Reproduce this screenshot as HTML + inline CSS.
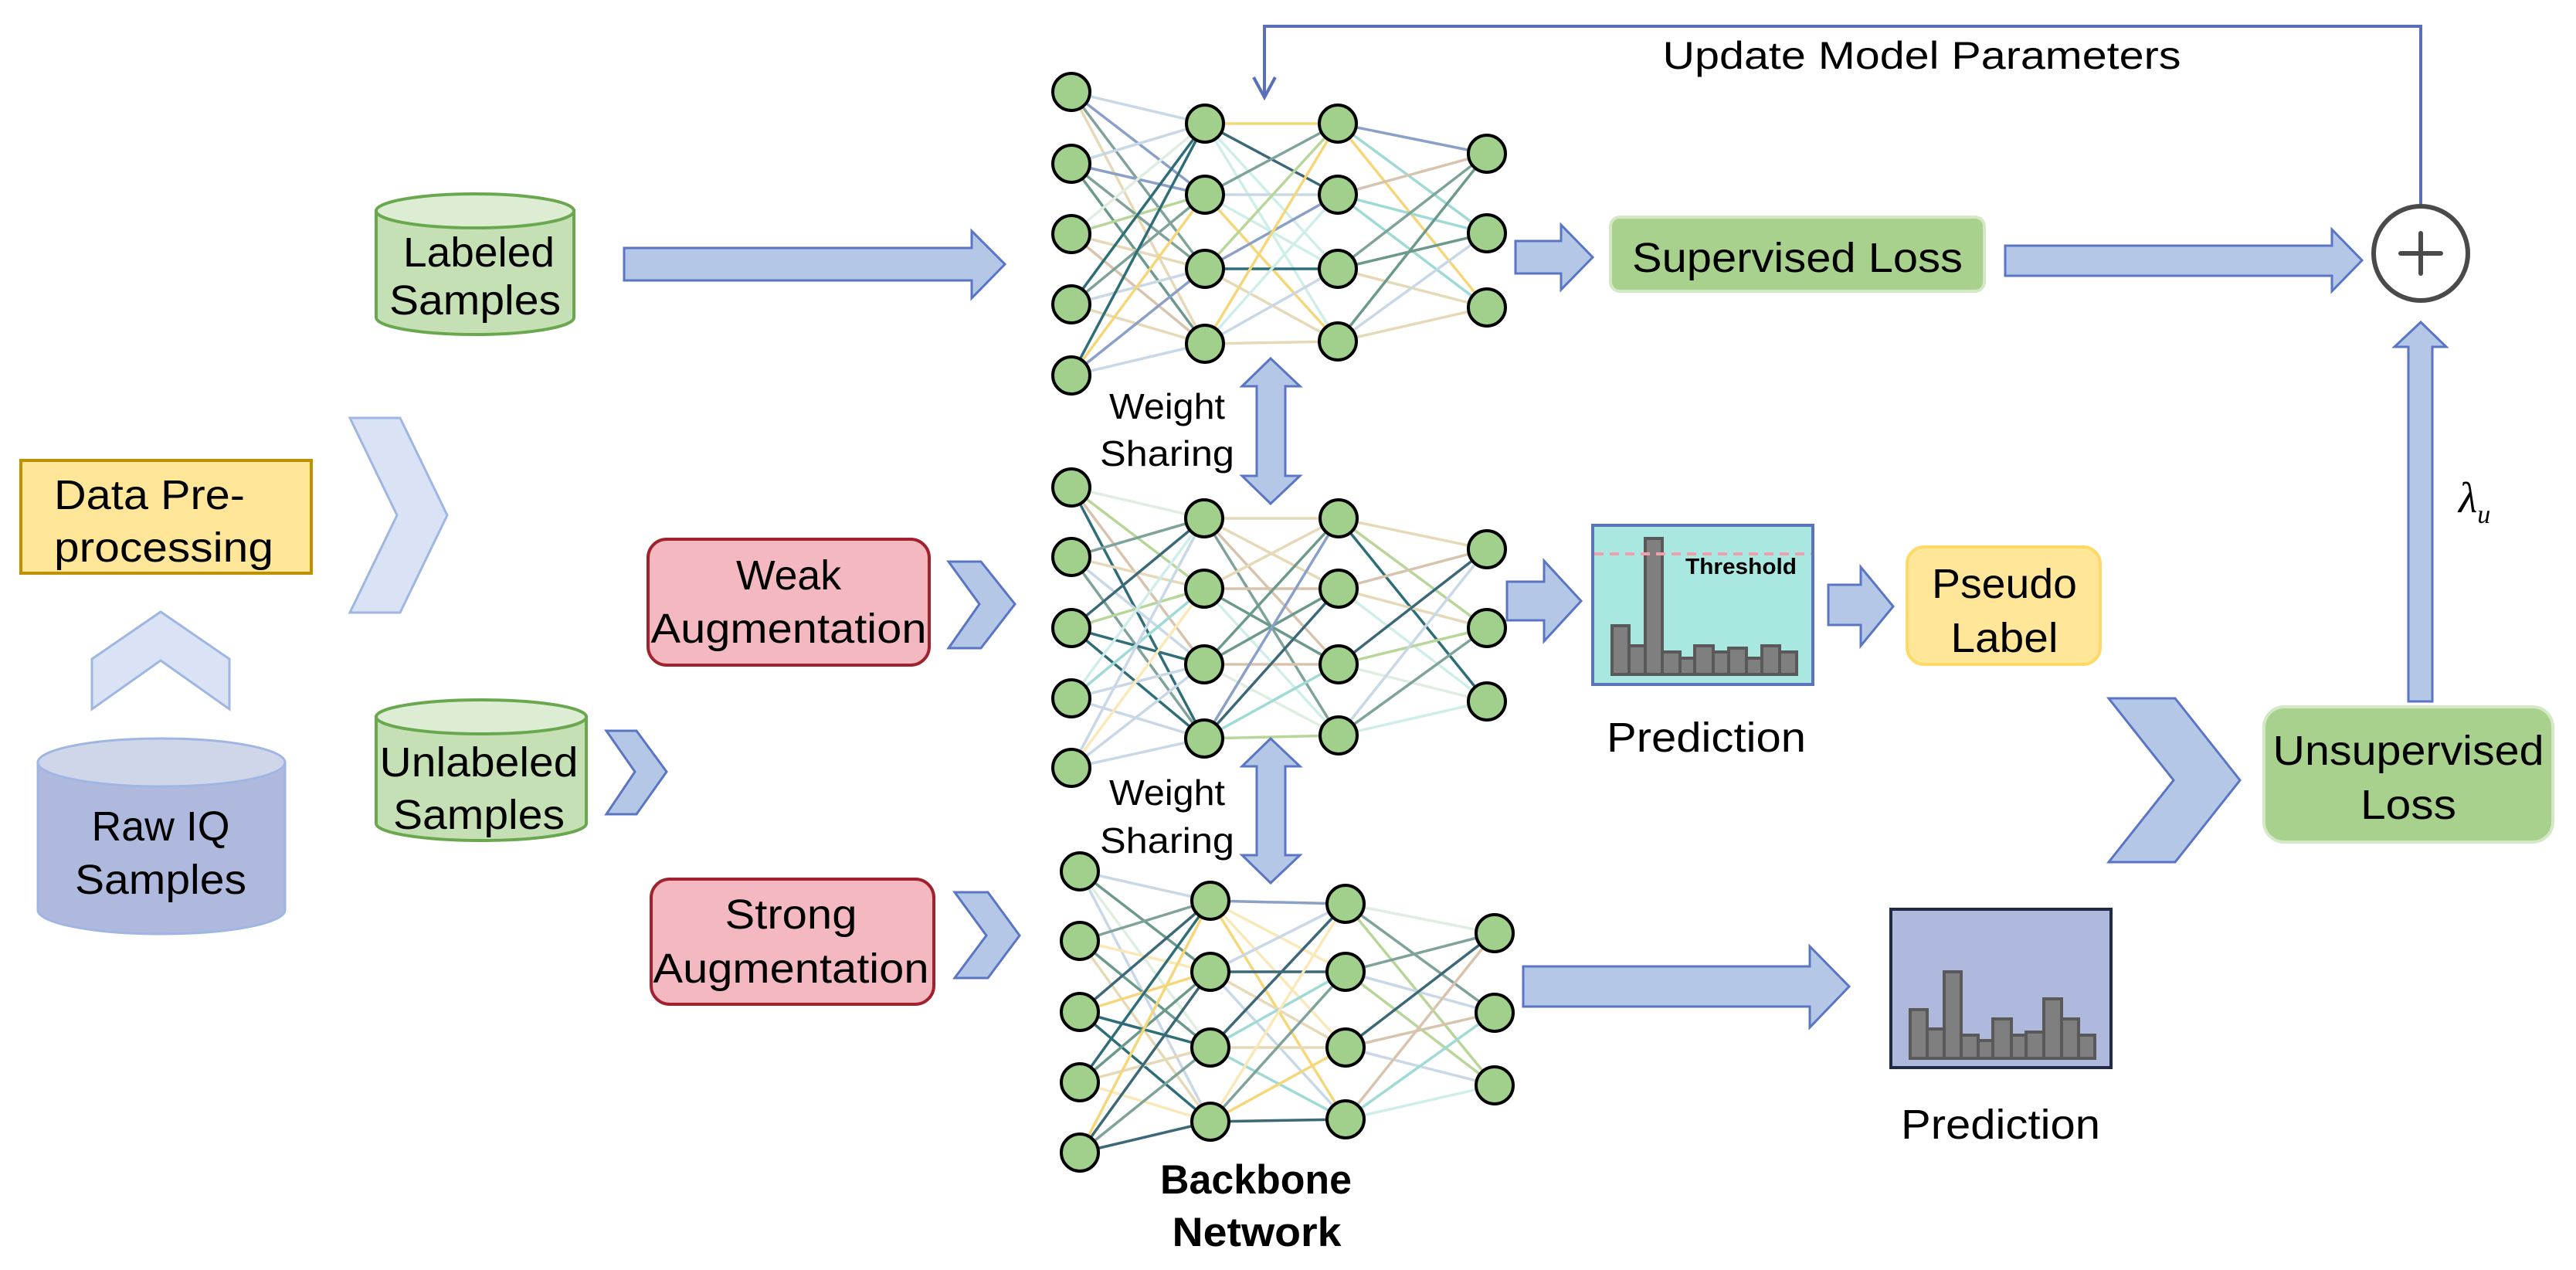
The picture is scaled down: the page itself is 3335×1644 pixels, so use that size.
<!DOCTYPE html>
<html><head><meta charset="utf-8"><style>
html,body{margin:0;padding:0;background:#fff;}
svg{display:block;}
text{font-family:"Liberation Sans",sans-serif;fill:#000;}
</style></head><body>
<svg id="s" width="3335" height="1644" viewBox="0 0 3335 1644" xmlns="http://www.w3.org/2000/svg">
<g id="edges"></g>
<g id="nodes"></g>

<!-- Data Pre-processing -->
<rect x="27" y="596" width="376" height="146" fill="#ffe699" stroke="#bf9000" stroke-width="4"/>
<text x="70" y="659" font-size="54" textLength="247" lengthAdjust="spacingAndGlyphs">Data Pre-</text>
<text x="70" y="727" font-size="54" textLength="284" lengthAdjust="spacingAndGlyphs">processing</text>

<!-- up chevron -->
<polygon points="119,853 208,792 297,853 297,918 208,855 119,918" fill="#dae3f5" stroke="#9fb6e3" stroke-width="3"/>
<!-- big right chevron -->
<polygon points="453,541 518,541 579,667 518,793 453,793 514,667" fill="#dae3f5" stroke="#9fb6e3" stroke-width="3"/>

<!-- Raw IQ cylinder -->
<path d="M49,987 L49,1178 A160,31 0 0 0 369,1178 L369,987 Z" fill="#aeb9dd" stroke="#9fb6e3" stroke-width="3"/>
<ellipse cx="209" cy="987" rx="160" ry="31" fill="#d0d6ea" stroke="#9fb6e3" stroke-width="3"/>
<text x="208" y="1088" font-size="54" text-anchor="middle" textLength="179" lengthAdjust="spacingAndGlyphs">Raw IQ</text>
<text x="208" y="1157" font-size="54" text-anchor="middle" textLength="222" lengthAdjust="spacingAndGlyphs">Samples</text>

<!-- Labeled cylinder -->
<path d="M487,273 L487,411 A128,22 0 0 0 743,411 L743,273 Z" fill="#c5e0b4" stroke="#6aa84f" stroke-width="4"/>
<ellipse cx="615" cy="273" rx="128" ry="22" fill="#dcedd3" stroke="#6aa84f" stroke-width="4"/>
<text x="620" y="345" font-size="54" text-anchor="middle" textLength="196" lengthAdjust="spacingAndGlyphs">Labeled</text>
<text x="615" y="407" font-size="54" text-anchor="middle" textLength="222" lengthAdjust="spacingAndGlyphs">Samples</text>

<!-- Unlabeled cylinder -->
<path d="M487,928 L487,1066 A136,22 0 0 0 759,1066 L759,928 Z" fill="#c5e0b4" stroke="#6aa84f" stroke-width="4"/>
<ellipse cx="623" cy="928" rx="136" ry="22" fill="#dcedd3" stroke="#6aa84f" stroke-width="4"/>
<text x="620" y="1005" font-size="54" text-anchor="middle" textLength="257" lengthAdjust="spacingAndGlyphs">Unlabeled</text>
<text x="620" y="1073" font-size="54" text-anchor="middle" textLength="222" lengthAdjust="spacingAndGlyphs">Samples</text>

<!-- small chevrons -->
<g fill="#b4c7e7" stroke="#5a75c4" stroke-width="3">
<polygon points="785,946 824,946 863,999 824,1054 785,1054 822,999"/>
<polygon points="1228,727 1270,727 1314,782 1270,839 1228,839 1268,782"/>
<polygon points="1236,1155 1279,1155 1320,1211 1279,1266 1236,1266 1277,1211"/>
<polygon points="2730,904 2816,904 2900,1010 2816,1116 2730,1116 2814,1010"/>
</g>

<!-- block arrows -->
<g fill="#b4c7e7" stroke="#5a75c4" stroke-width="3">
<polygon points="808,321 1258,321 1258,299 1301,342 1258,386 1258,363 808,363"/>
<polygon points="1962,312 2021,312 2021,291 2062,333 2021,375 2021,354 1962,354"/>
<polygon points="2596,318 3019,318 3019,297 3058,337 3019,377 3019,357 2596,357"/>
<polygon points="1951,753 1999,753 1999,726 2047,778 1999,830 1999,803 1951,803"/>
<polygon points="2367,757 2409,757 2409,734 2451,785 2409,836 2409,809 2367,809"/>
<polygon points="1972,1251 2343,1251 2343,1225 2394,1277 2343,1330 2343,1303 1972,1303"/>
<polygon points="3118,908 3118,449 3100,449 3134,417 3167,449 3149,449 3149,908"/>
<!-- double arrows -->
<polygon points="1645,464 1683,500 1664,500 1664,616 1683,616 1645,652 1608,616 1627,616 1627,500 1608,500"/>
<polygon points="1645,956 1683,992 1664,992 1664,1107 1683,1107 1645,1143 1608,1107 1627,1107 1627,992 1608,992"/>
</g>

<!-- Weak / Strong augmentation -->
<rect x="839" y="698" width="364" height="163" rx="24" fill="#f4b8c1" stroke="#a0222e" stroke-width="4"/>
<text x="1021" y="763" font-size="54" text-anchor="middle" textLength="136" lengthAdjust="spacingAndGlyphs">Weak</text>
<text x="1021" y="832" font-size="54" text-anchor="middle" textLength="357" lengthAdjust="spacingAndGlyphs">Augmentation</text>
<rect x="843" y="1138" width="366" height="162" rx="24" fill="#f4b8c1" stroke="#a0222e" stroke-width="4"/>
<text x="1024" y="1202" font-size="54" text-anchor="middle" textLength="171" lengthAdjust="spacingAndGlyphs">Strong</text>
<text x="1024" y="1272" font-size="54" text-anchor="middle" textLength="357" lengthAdjust="spacingAndGlyphs">Augmentation</text>

<!-- weight sharing -->
<text x="1511" y="542" font-size="46" text-anchor="middle" textLength="150" lengthAdjust="spacingAndGlyphs">Weight</text>
<text x="1511" y="603" font-size="46" text-anchor="middle" textLength="174" lengthAdjust="spacingAndGlyphs">Sharing</text>
<text x="1511" y="1042" font-size="46" text-anchor="middle" textLength="150" lengthAdjust="spacingAndGlyphs">Weight</text>
<text x="1511" y="1104" font-size="46" text-anchor="middle" textLength="174" lengthAdjust="spacingAndGlyphs">Sharing</text>
<text x="1626" y="1545" font-size="53" font-weight="bold" text-anchor="middle" textLength="248" lengthAdjust="spacingAndGlyphs">Backbone</text>
<text x="1627" y="1613" font-size="53" font-weight="bold" text-anchor="middle" textLength="219" lengthAdjust="spacingAndGlyphs">Network</text>

<!-- feedback line -->
<polyline points="3134,266 3134,34 1637,34 1637,126" fill="none" stroke="#5a6fba" stroke-width="4"/>
<polyline points="1623,100 1637,126 1651,100" fill="none" stroke="#5a6fba" stroke-width="4"/>
<text x="2488" y="89" font-size="50" text-anchor="middle" textLength="671" lengthAdjust="spacingAndGlyphs">Update Model Parameters</text>

<!-- plus -->
<circle cx="3134" cy="328" r="61" fill="#fff" stroke="#4a4a4a" stroke-width="6"/>
<line x1="3108" y1="328" x2="3160" y2="328" stroke="#4a4a4a" stroke-width="6" stroke-linecap="round"/>
<line x1="3134" y1="302" x2="3134" y2="354" stroke="#4a4a4a" stroke-width="6" stroke-linecap="round"/>
<text x="3183" y="663" font-size="56" font-style="italic" font-family="Liberation Serif, serif" style="font-family:'Liberation Serif',serif">λ<tspan font-size="34" dy="14">u</tspan></text>

<!-- Supervised loss -->
<rect x="2085" y="281" width="484" height="96" rx="12" fill="#a9d18e" stroke="#d5e8c6" stroke-width="4"/>
<text x="2327" y="352" font-size="54" text-anchor="middle" textLength="428" lengthAdjust="spacingAndGlyphs">Supervised Loss</text>

<!-- Unsupervised loss -->
<rect x="2931" y="915" width="374" height="175" rx="26" fill="#a9d18e" stroke="#d5e8c6" stroke-width="4"/>
<text x="3118" y="990" font-size="54" text-anchor="middle" textLength="351" lengthAdjust="spacingAndGlyphs">Unsupervised</text>
<text x="3118" y="1060" font-size="54" text-anchor="middle" textLength="124" lengthAdjust="spacingAndGlyphs">Loss</text>

<!-- Pseudo label -->
<rect x="2469" y="708" width="250" height="152" rx="22" fill="#ffe699" stroke="#ffd966" stroke-width="4"/>
<text x="2595" y="774" font-size="54" text-anchor="middle" textLength="188" lengthAdjust="spacingAndGlyphs">Pseudo</text>
<text x="2595" y="844" font-size="54" text-anchor="middle" textLength="139" lengthAdjust="spacingAndGlyphs">Label</text>

<!-- Prediction 1 -->
<rect x="2062" y="680" width="285" height="206" fill="#a9e7e1" stroke="#5b73b8" stroke-width="4"/>
<g fill="#7f7f7f" stroke="#595959" stroke-width="4">
<rect x="2087" y="810" width="22" height="63"/><rect x="2109" y="836" width="21" height="37"/>
<rect x="2130" y="697" width="22" height="176"/><rect x="2152" y="844" width="23" height="29"/>
<rect x="2175" y="852" width="19" height="21"/><rect x="2194" y="836" width="24" height="37"/>
<rect x="2218" y="844" width="20" height="29"/><rect x="2238" y="839" width="23" height="34"/>
<rect x="2261" y="852" width="20" height="21"/><rect x="2281" y="836" width="23" height="37"/>
<rect x="2304" y="844" width="22" height="29"/>
</g>
<line x1="2064" y1="717" x2="2345" y2="717" stroke="#f0a0a8" stroke-width="4" stroke-dasharray="12,8"/>
<text x="2182" y="743" font-size="29" font-weight="bold" textLength="144" lengthAdjust="spacingAndGlyphs">Threshold</text>
<text x="2209" y="973" font-size="54" text-anchor="middle" textLength="258" lengthAdjust="spacingAndGlyphs">Prediction</text>

<!-- Prediction 2 -->
<rect x="2448" y="1177" width="285" height="205" fill="#aeb9dd" stroke="#1f2a44" stroke-width="4"/>
<g fill="#7f7f7f" stroke="#595959" stroke-width="4">
<rect x="2473" y="1307" width="22" height="63"/><rect x="2495" y="1332" width="22" height="38"/>
<rect x="2517" y="1258" width="22" height="112"/><rect x="2539" y="1340" width="22" height="30"/>
<rect x="2561" y="1347" width="19" height="23"/><rect x="2580" y="1319" width="24" height="51"/>
<rect x="2604" y="1340" width="19" height="30"/><rect x="2623" y="1336" width="23" height="34"/>
<rect x="2646" y="1293" width="23" height="77"/><rect x="2669" y="1319" width="22" height="51"/>
<rect x="2691" y="1340" width="21" height="30"/>
</g>
<text x="2590" y="1474" font-size="54" text-anchor="middle" textLength="258" lengthAdjust="spacingAndGlyphs">Prediction</text>
</svg>
<script>
(function(){
var NS="http://www.w3.org/2000/svg";
var nets=[
 [[1387,[119,212,303,394,486]],[1560,[160,252,348,445]],[1732,[160,252,348,442]],[1925,[199,302,398]]],
 [[1387,[631,721,813,904,994]],[1559,[671,762,860,956]],[1733,[671,762,860,952]],[1925,[711,813,908]]],
 [[1398,[1128,1218,1310,1401,1492]],[1567,[1166,1258,1356,1452]],[1742,[1170,1258,1356,1449]],[1935,[1208,1311,1405]]]
];
var pal=["#3d6878","#7fa39a","#f5d77a","#e6d9b8","#9fdad6","#b9d69a","#c9d8e6","#8aa0c8","#dfeee0","#2f6e78","#d8c4ae","#fbe8b8","#6b9a8c","#cfeee9"];
var seed=7;function r(){seed=(seed*9301+49297)%233280;return seed/233280;}
var eg=document.getElementById("edges"),ng=document.getElementById("nodes");
nets.forEach(function(n){
 for(var l=0;l<n.length-1;l++){
  var a=n[l],b=n[l+1];
  a[1].forEach(function(y1){b[1].forEach(function(y2){
   var e=document.createElementNS(NS,"line");
   e.setAttribute("x1",a[0]);e.setAttribute("y1",y1);e.setAttribute("x2",b[0]);e.setAttribute("y2",y2);
   e.setAttribute("stroke",pal[Math.floor(r()*pal.length)]);e.setAttribute("stroke-width","3.5");
   eg.appendChild(e);
  });});
 }
 n.forEach(function(c){c[1].forEach(function(y){
  var k=document.createElementNS(NS,"circle");
  k.setAttribute("cx",c[0]);k.setAttribute("cy",y);k.setAttribute("r","24");
  k.setAttribute("fill","#a0d08c");k.setAttribute("stroke","#000");k.setAttribute("stroke-width","4");
  ng.appendChild(k);
 });});
});
})();
</script>
</body></html>
